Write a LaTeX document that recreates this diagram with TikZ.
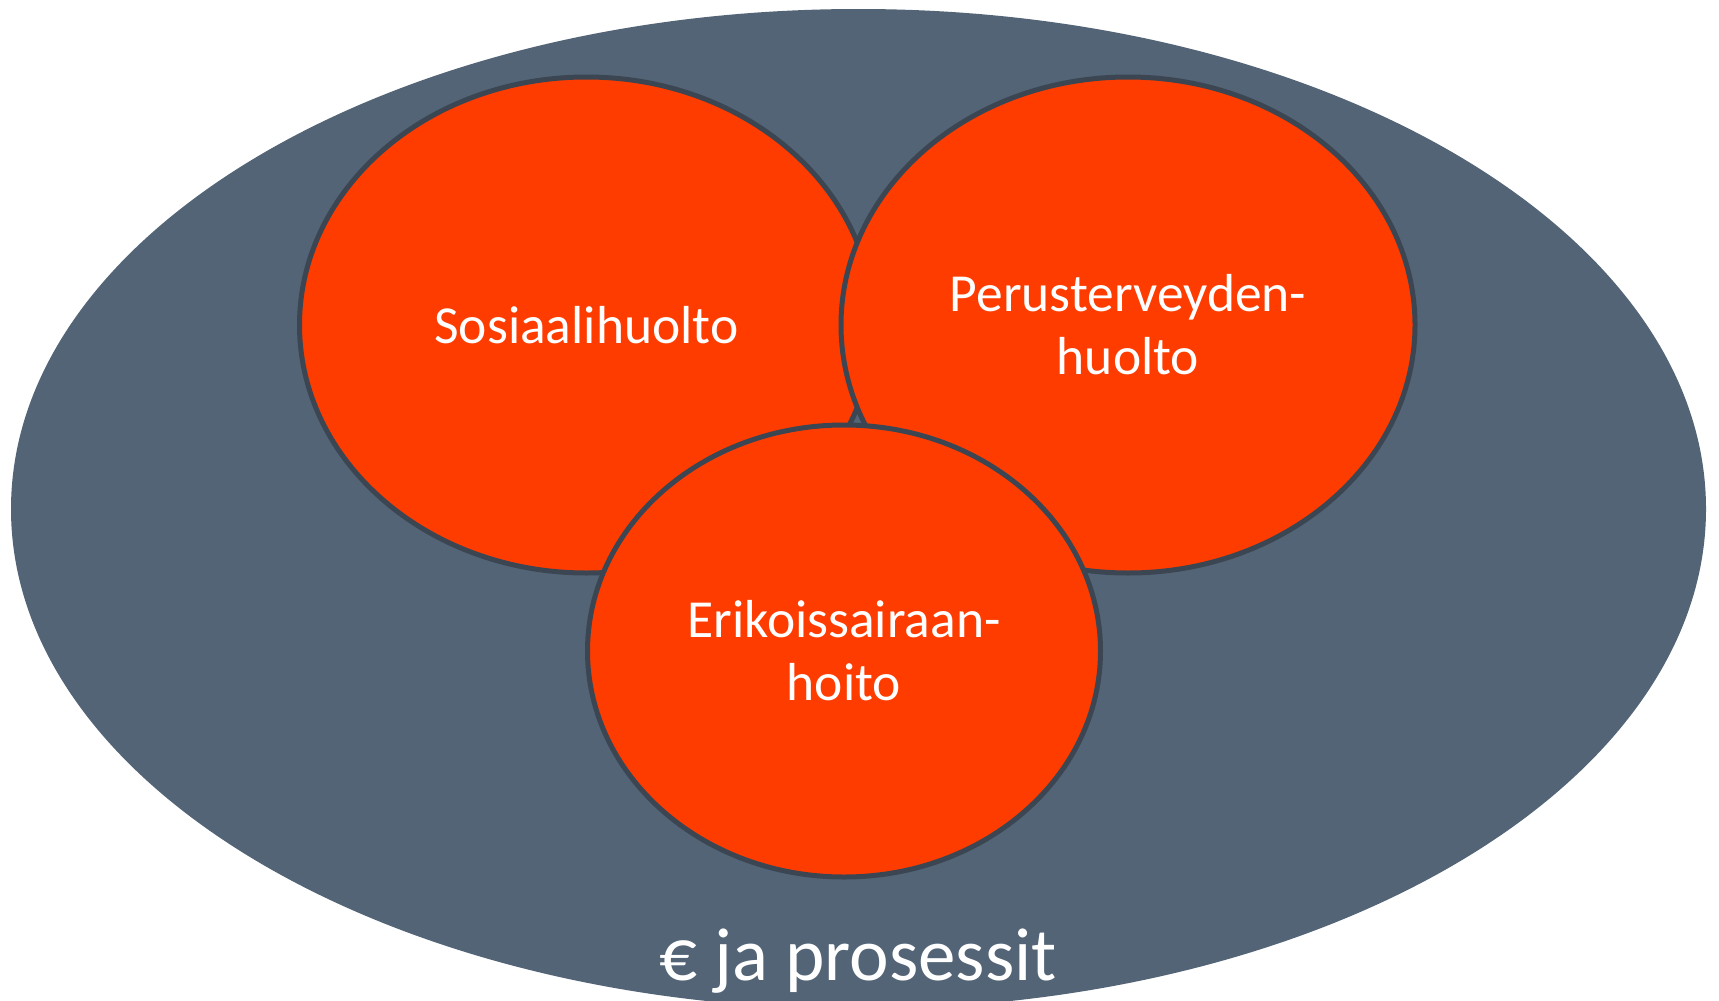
\documentclass[tikz,border=0pt]{standalone}
\usepackage{fontspec}
\setmainfont{Carlito}
\usetikzlibrary{shapes.geometric}
\definecolor{slate}{HTML}{536476}
\definecolor{rim}{HTML}{3B4652}
\definecolor{flame}{HTML}{FF3C00}

\begin{document}
\begin{tikzpicture}[x=1pt, y=-1pt,
		area/.style={ellipse, draw=rim, line width=5pt, fill=flame, inner sep=0pt,
			text=white, align=center, font=\fontsize{53.5}{63}\selectfont}]
		\useasboundingbox (0,0) rectangle (1719,1001);
		\node[ellipse, fill=slate, minimum width=1695pt, minimum height=1000pt, inner sep=0pt] (all) at (858.5,509) {};
		\node[area, minimum width=574pt, minimum height=496pt] (S) at (586.5,325) {Sosiaalihuolto};
		\node[area, minimum width=574pt, minimum height=496pt] (P) at (1128,325) {Perusterveyden-\\huolto};
		\node[area, minimum width=513pt, minimum height=452pt] (E) at (844,651) {Erikoissairaan-\\hoito};
		\node[anchor=base, text=white, font=\fontsize{75}{80}\selectfont] (money) at (858,980) {€ ja prosessit};
	\end{tikzpicture}
\end{document}
